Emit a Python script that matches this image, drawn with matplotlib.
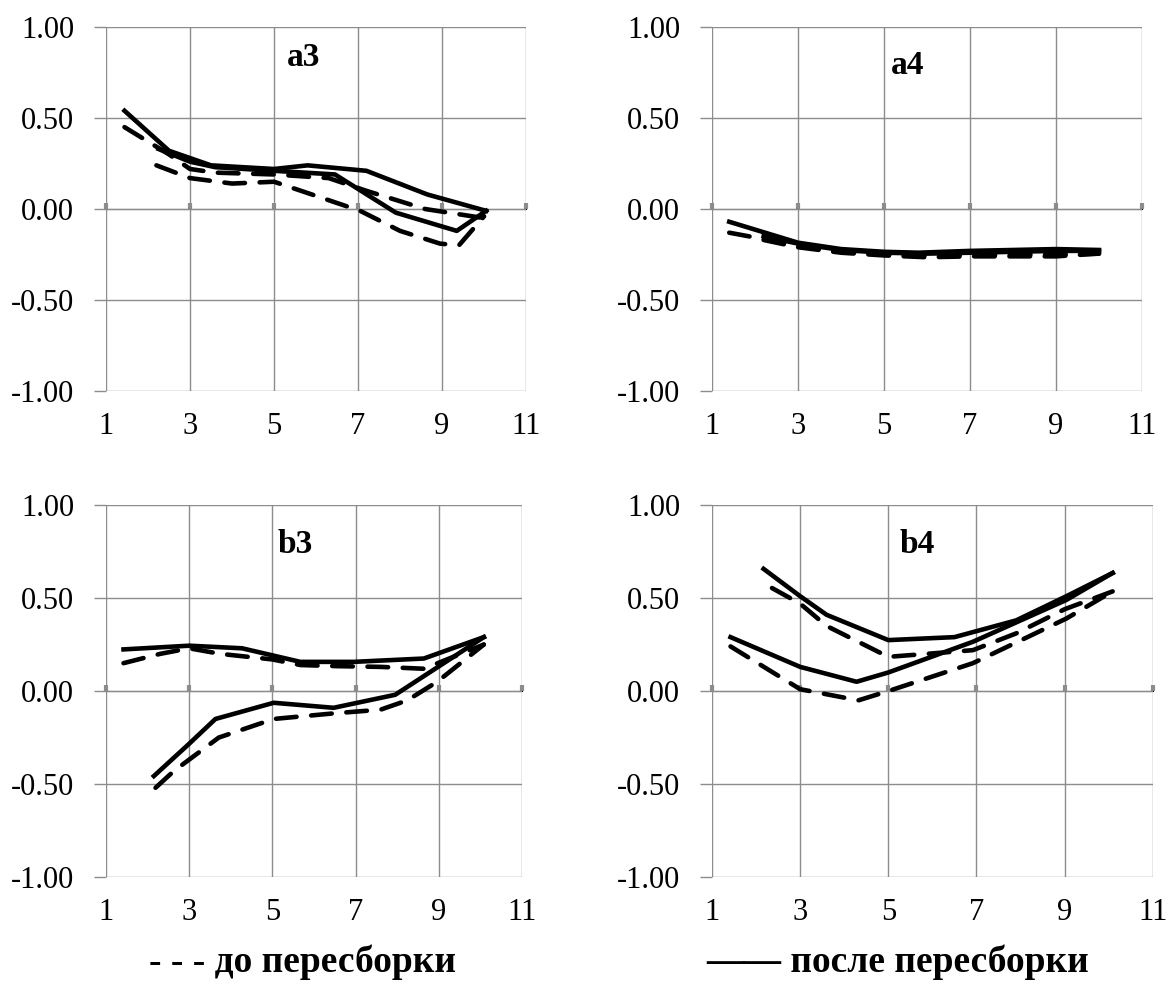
import matplotlib
matplotlib.use("Agg")
import matplotlib.pyplot as plt
import numpy as np

plt.rcParams['font.family'] = ['Liberation Serif', 'DejaVu Serif']
plt.rcParams['axes.unicode_minus'] = False

# ---- данные (читаны с картинки) ----
# a3
a3_s1_x = [1.44, 2.5, 3.5, 5.0, 5.8, 7.2, 8.65, 10.05]
a3_s1_y = [0.54, 0.32, 0.24, 0.22, 0.24, 0.21, 0.08, -0.01]
a3_s2_x = [2.25, 3.0, 3.6, 5.0, 6.45, 7.9, 9.35, 10.05]
a3_s2_y = [0.33, 0.26, 0.23, 0.21, 0.19, -0.02, -0.12, -0.01]
a3_d1_x = [1.44, 2.5, 3.0, 3.6, 5.0, 6.3, 7.2, 8.6, 10.0]
a3_d1_y = [0.45, 0.30, 0.22, 0.20, 0.19, 0.17, 0.10, 0.0, -0.05]
a3_d2_x = [2.2, 3.0, 4.0, 5.0, 5.9, 7.05, 8.0, 8.95, 9.4, 10.0]
a3_d2_y = [0.24, 0.17, 0.14, 0.15, 0.08, -0.01, -0.12, -0.19, -0.20, -0.04]

# a4
a4_s1_x = [1.4, 3.0, 4.0, 5.0, 5.8, 7.0, 8.0, 9.0, 10.0]
a4_s1_y = [-0.07, -0.185, -0.22, -0.235, -0.24, -0.23, -0.225, -0.22, -0.225]
a4_s2_x = [2.2, 3.0, 4.0, 5.0, 6.0, 7.0, 8.0, 9.0, 10.0]
a4_s2_y = [-0.15, -0.19, -0.225, -0.24, -0.245, -0.24, -0.235, -0.23, -0.23]
a4_d1_x = [1.4, 3.0, 4.0, 5.0, 6.0, 7.0, 8.0, 9.0, 10.0]
a4_d1_y = [-0.13, -0.20, -0.235, -0.25, -0.255, -0.25, -0.25, -0.25, -0.245]
a4_d2_x = [2.2, 3.0, 4.0, 5.0, 6.0, 7.0, 8.0, 9.0, 10.0]
a4_d2_y = [-0.17, -0.21, -0.24, -0.255, -0.265, -0.26, -0.26, -0.26, -0.245]

# b3
b3_s1_x = [1.42, 3.0, 4.27, 5.67, 6.95, 8.64, 10.08]
b3_s1_y = [0.224, 0.244, 0.23, 0.157, 0.157, 0.175, 0.29]
b3_s2_x = [2.15, 2.99, 3.63, 5.03, 6.47, 7.95, 10.08]
b3_s2_y = [-0.457, -0.285, -0.15, -0.063, -0.09, -0.02, 0.29]
b3_d1_x = [1.42, 2.3, 3.0, 3.75, 5.0, 5.67, 6.55, 7.6, 8.64, 10.08]
b3_d1_y = [0.15, 0.20, 0.23, 0.20, 0.17, 0.14, 0.134, 0.13, 0.12, 0.25]
b3_d2_x = [2.19, 2.63, 3.71, 5.03, 6.47, 7.6, 8.24, 8.96, 10.08]
b3_d2_y = [-0.52, -0.43, -0.25, -0.15, -0.12, -0.10, -0.05, 0.05, 0.25]

# b4
b4_s1_x = [2.17, 3.0, 3.6, 5.0, 6.5, 7.9, 9.04, 10.09]
b4_s1_y = [0.657, 0.51, 0.41, 0.274, 0.29, 0.38, 0.51, 0.635]
b4_s2_x = [1.42, 3.0, 4.28, 5.0, 6.92, 9.04, 10.09]
b4_s2_y = [0.29, 0.13, 0.05, 0.10, 0.265, 0.49, 0.635]
b4_d1_x = [2.36, 3.0, 3.6, 5.0, 5.87, 6.92, 7.9, 9.0, 10.09]
b4_d1_y = [0.554, 0.47, 0.35, 0.184, 0.20, 0.22, 0.31, 0.44, 0.536]
b4_d2_x = [1.42, 3.0, 4.32, 5.0, 6.92, 9.04, 10.09]
b4_d2_y = [0.24, 0.01, -0.05, 0.0, 0.15, 0.39, 0.536]

x_ticks = [1, 3, 5, 7, 9, 11]
y_ticks = [-1.0, -0.5, 0.0, 0.5, 1.0]

panels = [
  ("a3", [0.0907, 0.6082, 0.3593, 0.3647], (5.7, 0.83),
   [(a3_s1_x, a3_s1_y), (a3_s2_x, a3_s2_y)], [(a3_d1_x, a3_d1_y), (a3_d2_x, a3_d2_y)]),
  ("a4", [0.6091, 0.6082, 0.3678, 0.3647], (5.56, 0.79),
   [(a4_s1_x, a4_s1_y), (a4_s2_x, a4_s2_y)], [(a4_d1_x, a4_d1_y), (a4_d2_x, a4_d2_y)]),
  ("b3", [0.0907, 0.1212, 0.3559, 0.3727], (5.55, 0.79),
   [(b3_s1_x, b3_s1_y), (b3_s2_x, b3_s2_y)], [(b3_d1_x, b3_d1_y), (b3_d2_x, b3_d2_y)]),
  ("b4", [0.6091, 0.1212, 0.3770, 0.3727], (5.65, 0.79),
   [(b4_s1_x, b4_s1_y), (b4_s2_x, b4_s2_y)], [(b4_d1_x, b4_d1_y), (b4_d2_x, b4_d2_y)]),
]

GRAY = "#8c8c8c"

fig = plt.figure(figsize=(11.69, 9.98), dpi=100)

for name, rect, lab, solids, dashes in panels:
  ax = fig.add_axes(rect)
  ax.set_xlim(1, 11)
  ax.set_ylim(-1, 1)
  ax.set_xticks(x_ticks)
  ax.set_yticks(y_ticks)
  ax.set_yticklabels(["%.2f" % v for v in y_ticks])
  for s in ax.spines.values():
    s.set_visible(False)
  ax.grid(True, color=GRAY, lw=1.0)
  ax.tick_params(axis='y', length=9, width=1, color=GRAY, labelsize=22, pad=14)
  ax.tick_params(axis='x', length=0, labelsize=22, pad=15)

  # ось x через ноль
  sec = ax.secondary_xaxis(0.5)
  sec.spines['bottom'].set_color(GRAY)
  sec.spines['bottom'].set_linewidth(3)
  sec.set_xticks(x_ticks)
  sec.set_xticklabels([])
  sec.tick_params(length=4, width=3, color=GRAY)

  for x, y in dashes:
    ax.plot(x, y, color="black", lw=3.3, linestyle=(0, (4.5, 3.2)),
            dash_capstyle='round', zorder=3)
  for x, y in solids:
    ax.plot(x, y, color="black", lw=3.3, solid_joinstyle='round', zorder=4)

  ax.text(lab[0], lab[1], name, fontsize=24, fontweight='bold', ha='center', va='center')

# подписи внизу
fig.text(0.259, 0.036, "- - - до пересборки", fontsize=27, fontweight='bold',
         ha='center', va='center')
fig.text(0.768, 0.036, "—— после пересборки", fontsize=27, fontweight='bold',
         ha='center', va='center')

fig.savefig("out.png", dpi=100)
